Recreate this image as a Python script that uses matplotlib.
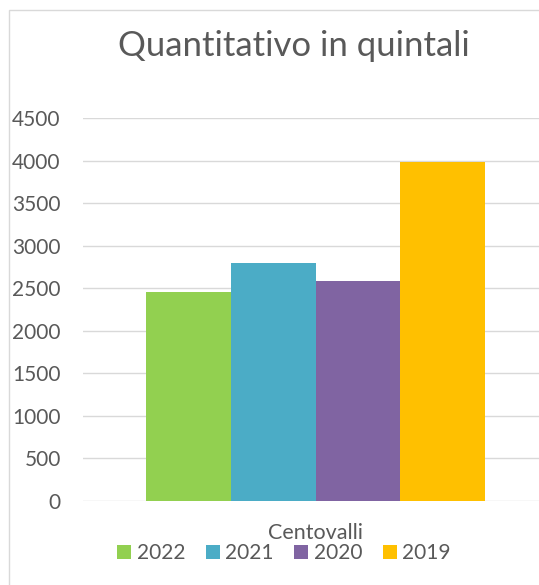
import matplotlib
matplotlib.use("Agg")
import matplotlib.pyplot as plt
from matplotlib.patches import Rectangle, Patch

# Data
CATEGORY = ["Centovalli"]
YEARS = ["2022", "2021", "2020", "2019"]
VALUES = [2450, 2800, 2580, 3985]
COLORS = ["#92D050", "#4BACC6", "#8064A2", "#FFC000"]

TEXT = "#595959"
GRID = "#D9D9D9"

plt.rcParams["font.family"] = ["Lato", "DejaVu Sans"]

W, H = 539, 585
fig = plt.figure(figsize=(W / 100, H / 100), dpi=100)

# chart-area border (right and bottom edges fall outside the picture)
fig.add_artist(Rectangle((9 / W, -0.1), 2.0, 1 - 10 / H + 0.1,
                         transform=fig.transFigure, fill=False,
                         edgecolor=GRID, linewidth=1.0))

ax = fig.add_axes([83 / W, 1 - 501 / H, (548 - 83) / W, (501 - 118) / H])

n = len(YEARS)
width = 1 / (n + 1.5)
for i, (year, val, col) in enumerate(zip(YEARS, VALUES, COLORS)):
    ax.bar(0 + (i - (n - 1) / 2) * width, [val], width=width, color=col,
           label=year, zorder=3)

ax.set_xlim(-0.5, 0.5)
ax.set_ylim(0, 4500)
ax.set_yticks(range(0, 4501, 500))
ax.set_xticks([0])
ax.set_xticklabels(CATEGORY)
ax.yaxis.grid(True, color=GRID, linewidth=1.0, zorder=0)
for s in ax.spines.values():
    s.set_visible(False)
ax.tick_params(axis="y", length=0, pad=16, labelsize=15, labelcolor=TEXT)
ax.tick_params(axis="x", length=0, pad=16, labelsize=15.5, labelcolor=TEXT)

fig.text(294 / W, 1 - 46 / H, "Quantitativo in quintali", ha="center",
         va="center", fontsize=25, color=TEXT)

handles = [Patch(facecolor=c, edgecolor="none") for c in COLORS]
fig.legend(handles, YEARS, loc="center", bbox_to_anchor=(284 / W, 1 - 553 / H),
           ncol=n, frameon=False, fontsize=15, labelcolor=TEXT,
           handlelength=0.67, handleheight=0.67, handletextpad=0.25,
           columnspacing=1.0, borderpad=0)

fig.savefig("out.png", dpi=100)
